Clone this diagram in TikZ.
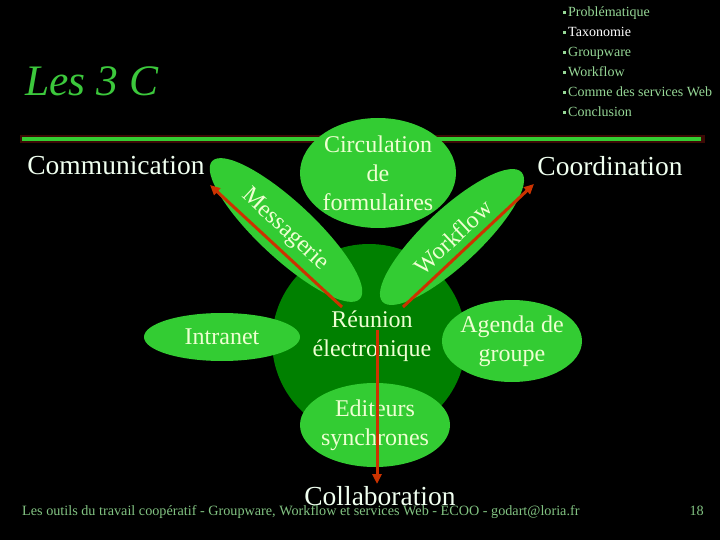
\documentclass[tikz,border=0pt]{standalone}
\usepackage{fontspec}
\setmainfont{Liberation Serif}
\usetikzlibrary{shapes.geometric,arrows.meta}
\definecolor{lgreen}{RGB}{51,204,51}
\definecolor{dgreen}{RGB}{0,128,0}
\definecolor{arrowred}{RGB}{204,51,0}
\definecolor{paletext}{RGB}{238,255,210}
\definecolor{whitetext}{RGB}{240,255,240}
\definecolor{menugreen}{RGB}{150,215,150}
\definecolor{footgreen}{RGB}{130,195,130}
\definecolor{titlegreen}{RGB}{60,200,60}
\definecolor{linered}{RGB}{60,10,5}
\tikzset{
  bubble/.style={ellipse, fill=lgreen, inner sep=0pt},
  bubtext/.style={text=paletext, align=center, inner sep=0pt, font=\fontsize{24}{29}\selectfont},
  bigword/.style={text=whitetext, inner sep=0pt, font=\fontsize{27.5}{33}\selectfont},
  flow/.style={draw=arrowred, line width=3pt, -{Triangle[length=10pt,width=9pt]}},
  menuitem/.style={anchor=base west, text=menugreen, inner sep=0pt, font=\fontsize{14}{16}\selectfont},
  bullet/.style={fill=menugreen, minimum size=3pt, inner sep=0pt},
}
\begin{document}
\begin{tikzpicture}[x=1pt,y=-1pt]
\fill[black] (0,0) rectangle (720,540);
\useasboundingbox (0,0) rectangle (720,540);

% title
\node[anchor=base west, inner sep=0pt, text=titlegreen, font=\fontsize{43.5}{48}\selectfont\itshape] (title) at (25,96) {Les 3 C};

% menu
\foreach \t/\c [count=\i] in {Problématique/menugreen, Taxonomie/white, Groupware/menugreen, Workflow/menugreen, Comme des services Web/menugreen, Conclusion/menugreen}{
  \node[bullet] (b\i) at (564.5, {13+20*(\i-1)}) {};
  \node[menuitem, text=\c] (m\i) at (568, {17+20*(\i-1)}) {\t};
}

% rule
\draw[linered, line width=8pt] (20,139) -- (705,139);
\draw[lgreen, line width=4pt] (22,139) -- (701,139);

% central circle
\node[circle, fill=dgreen, minimum size=194pt, inner sep=0pt] (core) at (369,341) {};

% bubbles
\node[bubble, minimum width=156pt, minimum height=110pt] (circ) at (378,173) {};
\node[bubble, minimum width=202pt, minimum height=56pt, rotate=-43] (mess) at (286,230) {};
\node[bubble, minimum width=190pt, minimum height=56pt, rotate=43] (work) at (452,237) {};
\node[bubble, minimum width=156pt, minimum height=48pt] (intra) at (222,337) {};
\node[bubble, minimum width=140pt, minimum height=82pt] (agenda) at (512,341) {};
\node[bubble, minimum width=150pt, minimum height=84pt] (edit) at (375,425) {};

% bubble texts
\node[bubtext] at (circ.center) {Circulation\\de\\formulaires};
\node[bubtext, rotate=-43] at ([shift={(-1,0)}]mess.center) {Messagerie};
\node[bubtext, rotate=43] at ([shift={(1,0)}]work.center) {Workflow};
\node[bubtext] at (intra.center) {Intranet};
\node[bubtext] at (agenda.center) {Agenda de\\groupe};
\node[bubtext] at (edit.center) {Editeurs\\synchrones};
\node[bubtext] (reunion) at (372,336) {Réunion\\électronique};

% the three Cs
\node[bigword] (comm) at (116,166) {Communication};
\node[bigword] (coord) at (610,166) {Coordination};
\node[bigword, anchor=base] (collab) at (380,505) {Collaboration};

% arrows
\coordinate (ms) at (342,307);
\coordinate (me) at (210,185);
\coordinate (ws) at (403,307);
\coordinate (we) at (534,184);
\coordinate (cs) at (377,330);
\coordinate (ce) at (377,484);
\draw[flow] (ms) -- (me);
\draw[flow] (ws) -- (we);
\draw[flow] (cs) -- (ce);

% footer
\node[anchor=base west, inner sep=0pt, text=footgreen, font=\fontsize{14.2}{16}\selectfont] (foot) at (22,515) {Les outils du travail coopératif - Groupware, Workflow et services Web - ECOO - godart@loria.fr};
\node[anchor=base east, inner sep=0pt, text=footgreen, font=\fontsize{14.2}{16}\selectfont] (page) at (704,515) {18};
\end{tikzpicture}
\end{document}
